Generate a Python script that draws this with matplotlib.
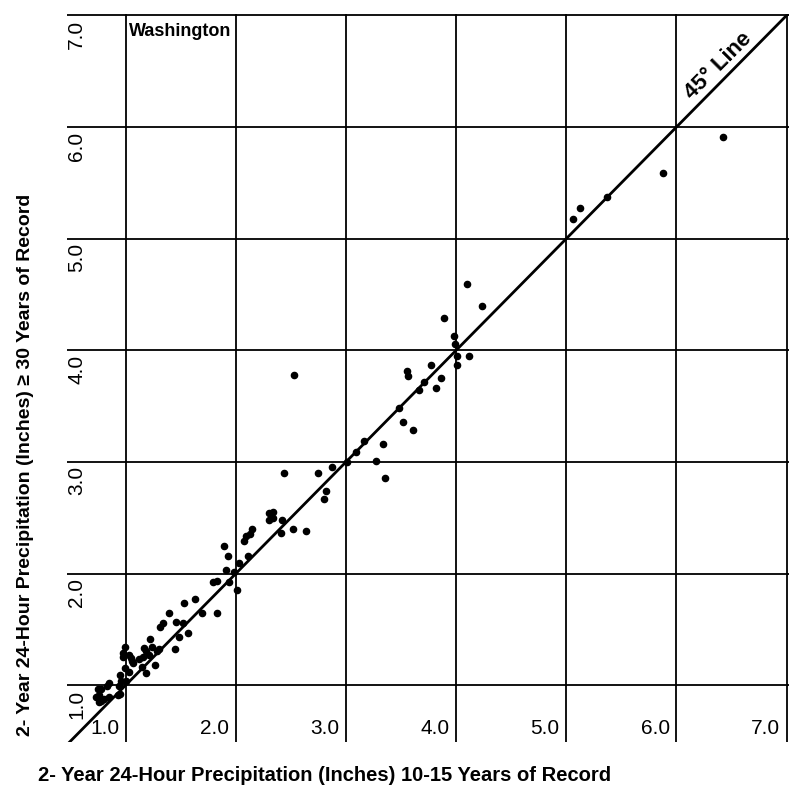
import numpy as np
import matplotlib
matplotlib.use('Agg')
from matplotlib import pyplot as plt

# 2-yr 24-hr precipitation, Washington: short record (x) vs long record (y)
short_rec = [6.42, 5.88, 5.37, 5.12, 5.06,
             4.10, 4.23, 3.89, 3.98, 3.99, 4.01, 4.01, 4.12, 3.77, 3.55, 3.56,
             3.71, 3.86, 3.82, 3.66, 3.48, 3.52, 3.61, 3.16, 3.09, 3.34, 3.27,
             3.35, 3.01, 2.87, 2.75, 2.44, 2.53, 2.82, 2.80,
             2.30, 2.34, 2.30, 2.34, 2.42, 2.41, 2.52, 2.64, 2.15, 2.13, 2.09,
             2.07, 2.11, 1.89, 1.93, 1.91, 1.98, 2.03, 1.79, 1.83, 1.94, 2.01,
             1.83, 1.69, 1.63, 1.53, 1.39, 1.34, 1.31, 1.46, 1.52, 1.57, 1.48,
             1.45, 1.22, 1.30, 1.18, 1.24, 0.99, 0.98, 1.05, 1.16,
             0.98, 1.03, 1.06, 1.17, 1.21, 1.12, 1.07, 1.28, 1.27, 1.18, 1.15,
             0.99, 1.03, 0.95, 1.00, 0.96, 0.94, 0.85, 0.83, 0.75, 0.78, 0.76,
             0.73, 0.80, 0.85, 0.93, 0.95, 0.76, 0.78]
long_rec = [5.91, 5.59, 5.37, 5.27, 5.18,
            4.59, 4.40, 4.29, 4.13, 4.06, 3.95, 3.87, 3.95, 3.87, 3.81, 3.77,
            3.72, 3.75, 3.66, 3.64, 3.48, 3.36, 3.29, 3.19, 3.09, 3.16, 3.01,
            2.86, 3.00, 2.95, 2.90, 2.90, 3.78, 2.74, 2.67,
            2.54, 2.55, 2.48, 2.50, 2.48, 2.36, 2.40, 2.38, 2.40, 2.35, 2.34,
            2.29, 2.16, 2.25, 2.16, 2.03, 2.01, 2.09, 1.92, 1.93, 1.92, 1.85,
            1.65, 1.65, 1.77, 1.74, 1.65, 1.56, 1.52, 1.57, 1.56, 1.47, 1.43,
            1.32, 1.41, 1.32, 1.31, 1.34, 1.34, 1.25, 1.24, 1.25,
            1.29, 1.27, 1.22, 1.33, 1.27, 1.23, 1.20, 1.31, 1.18, 1.11, 1.16,
            1.15, 1.12, 1.09, 1.04, 1.04, 0.99, 1.02, 0.99, 0.97, 0.97, 0.91,
            0.89, 0.88, 0.89, 0.91, 0.92, 0.85, 0.86]
ticks = [1.0, 2.0, 3.0, 4.0, 5.0, 6.0, 7.0]

font = ['Liberation Sans', 'DejaVu Sans']

fig = plt.figure(figsize=(7.92, 7.92), dpi=100)
ax = fig.add_axes([0.085, 0.063, 0.911, 0.919])
ax.set_xlim(0.47, 7.02)
ax.set_ylim(0.49, 7.01)
for s in ax.spines.values():
    s.set_visible(False)
ax.set_xticks([])
ax.set_yticks([])

# grid
for t in ticks:
    ax.axvline(t, color='black', lw=1.3, zorder=1)
    ax.axhline(t, color='black', lw=1.3, zorder=1)

# 45 degree line
ax.plot([0.4, 7.1], [0.4, 7.1], color='black', lw=2.0, zorder=2)

ax.scatter(short_rec, long_rec, s=20, color='black', zorder=3)

# tick labels inside the frame
for t in ticks:
    ax.text(t - 0.06, 0.53, '%.1f' % t, ha='right', va='bottom',
            fontsize=15, family=font)
    ax.text(0.556, t - 0.04, '%.1f' % t, ha='center', va='top', rotation=90,
            fontsize=15, family=font)

ax.text(1.03, 6.93, 'Washington', ha='left', va='top', fontsize=13,
        fontweight='bold', family=font)
ax.text(6.38, 6.55, '45° Line', ha='center', va='center', rotation=45,
        fontsize=16, fontweight='bold', family=font)

fig.text(0.41, 0.021, '2- Year 24-Hour Precipitation (Inches) 10-15 Years of Record',
         ha='center', va='center', fontsize=14.5, fontweight='bold', family=font)
fig.text(0.032, 0.413, '2- Year 24-Hour Precipitation (Inches) ≥ 30 Years of Record',
         ha='center', va='center', rotation=90, fontsize=14, fontweight='bold',
         family=font)

fig.savefig('out.png', dpi=100)
